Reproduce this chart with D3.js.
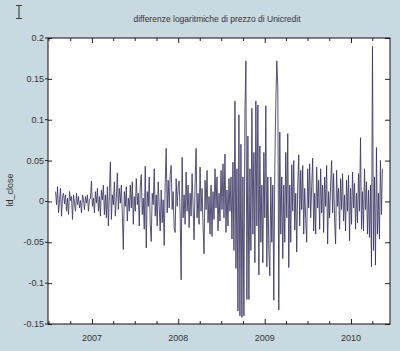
<!DOCTYPE html>
<html>
<head>
<meta charset="utf-8">
<script src="https://cdn.jsdelivr.net/npm/d3@7"></script>
<style>
html,body{margin:0;padding:0;background:#c9d9e2;}
svg{display:block;}
text{font-family:"Liberation Sans",Arial,sans-serif;fill:#333;}
</style>
</head>
<body>
<svg id="chart" width="400" height="351"></svg>
<script>
// ---- data ----
const title = "differenze logaritmiche di prezzo di Unicredit";
const yLabel = "ld_close";
const yTicks = [0.2, 0.15, 0.1, 0.05, 0, -0.05, -0.1, -0.15];
const yTickLabels = ["0.2", "0.15", "0.1", "0.05", "0", "-0.05", "-0.1", "-0.15"];
const xTickYears = [2007, 2008, 2009, 2010];
const seriesStart = "2006-07-31";
const seriesEnd = "2010-05-14";
const ldClose = [
 0.012,-0.004,0.018,-0.014,0.002,0.016,-0.018,0.006,0.010,-0.003,0.008,-0.012,0.004,-0.016,0.012,0.001,0.006,-0.022,0.008,-0.002,-0.012,0.010,-0.004,0.006,-0.008,0.001,-0.014,0.008,0.003,-0.010,0.006,-0.002,0.008,-0.012,0.002,0.004,
 0.025,-0.006,0.004,-0.014,0.012,-0.002,0.016,-0.012,0.006,-0.018,0.014,0.002,0.020,-0.016,0.008,-0.020,0.018,-0.030,0.012,0.048,
 -0.022,0.008,-0.004,0.024,-0.018,0.004,0.035,-0.010,0.016,-0.002,0.020,-0.016,-0.059,0.012,-0.006,0.018,-0.024,0.004,-0.012,0.020,
 -0.008,0.024,-0.028,0.006,-0.012,0.028,-0.004,0.010,-0.030,0.018,0.033,-0.016,0.004,-0.034,0.043,-0.057,0.012,-0.006,0.030,-0.028,
 -0.049,0.010,-0.004,0.040,-0.018,0.008,-0.030,0.024,-0.006,-0.036,0.014,-0.026,0.002,-0.054,0.020,0.065,-0.014,0.026,-0.008,0.032,
 0.044,-0.010,0.012,-0.032,-0.038,0.028,-0.006,0.018,0.025,-0.014,-0.096,0.054,-0.020,0.008,-0.028,0.036,-0.012,0.020,-0.032,0.010,
 -0.018,0.034,-0.006,-0.047,0.022,0.065,-0.020,0.010,-0.028,0.042,-0.012,0.016,-0.030,-0.064,0.026,-0.010,0.038,-0.026,0.006,-0.040,
 0.020,-0.043,0.012,-0.022,0.040,-0.008,0.030,-0.036,0.010,-0.024,0.038,-0.010,0.046,-0.020,0.058,-0.038,0.014,-0.030,0.028,-0.012,
 0.030,-0.046,0.048,-0.060,0.123,-0.082,0.040,-0.134,0.106,-0.140,0.070,-0.142,0.030,-0.140,0.108,0.172,-0.120,0.080,-0.120,0.040,
 -0.060,0.114,-0.040,0.060,-0.075,0.123,-0.030,0.118,-0.090,0.068,-0.050,0.020,-0.075,0.060,-0.020,0.117,-0.080,0.030,-0.060,-0.091,
 0.030,-0.050,0.020,-0.121,0.040,0.119,0.172,0.140,-0.133,0.085,-0.040,0.030,-0.070,0.020,-0.050,0.060,-0.020,0.083,-0.081,0.020,
 -0.050,0.045,-0.012,0.050,-0.035,0.010,-0.062,0.020,0.057,-0.030,0.038,-0.010,0.044,-0.040,0.016,-0.022,-0.050,0.040,-0.008,0.046,
 -0.020,0.018,0.053,-0.036,0.010,-0.040,0.042,-0.008,0.026,-0.034,0.040,-0.014,0.020,-0.038,0.030,-0.006,0.044,-0.052,0.012,-0.020,
 0.020,0.050,-0.014,0.034,-0.024,-0.052,0.038,-0.006,0.016,-0.034,0.028,-0.010,0.034,-0.024,0.008,-0.036,0.026,-0.012,0.032,-0.048,
 0.016,-0.028,0.036,-0.008,0.022,-0.034,0.010,-0.026,0.034,-0.012,0.078,-0.034,0.012,-0.036,0.040,-0.010,0.024,-0.040,0.014,-0.044,
 0.020,-0.080,0.190,-0.060,0.030,-0.078,0.066,-0.040,0.010,-0.046,0.050,-0.016,0.040
];

// ---- layout ----
const svg = d3.select("#chart");
const L = 48, R = 390, T = 38, B = 324;

const t0 = new Date(seriesStart), t1 = new Date(seriesEnd);
const idxToDate = d3.scaleLinear().domain([0, ldClose.length - 1]).range([t0.getTime(), t1.getTime()]);
const data = ldClose.map((v, i) => ({date: new Date(idxToDate(i)), v}));

const x = d3.scaleTime().domain([new Date("2006-06-29"), new Date("2010-06-15")]).range([L, R]);
const y = d3.scaleLinear().domain([-0.15, 0.2]).range([B, T]);

svg.append("rect").attr("x", L).attr("y", T).attr("width", R - L).attr("height", B - T).attr("fill", "#fff");

// series
const line = d3.line().x(d => x(d.date)).y(d => y(d.v));
svg.append("path").datum(data).attr("d", line)
  .attr("fill", "none").attr("stroke", "#3a3662").attr("stroke-width", 1).attr("stroke-opacity", 0.85);

// axes
const majorX = xTickYears.map(yy => new Date(yy, 0, 1));
const minorX = d3.timeMonth.every(3).range(x.domain()[0], x.domain()[1]).filter(d => d.getMonth() !== 0);

const gB = svg.append("g").attr("transform", `translate(0,${B})`);
gB.call(d3.axisBottom(x).tickValues(majorX).tickSize(-5).tickFormat("").tickSizeOuter(0));
gB.append("g").call(d3.axisBottom(x).tickValues(minorX).tickSize(-3).tickFormat("").tickSizeOuter(0));
const gT = svg.append("g").attr("transform", `translate(0,${T})`);
gT.call(d3.axisTop(x).tickValues(majorX).tickSize(-5).tickFormat("").tickSizeOuter(0));
gT.append("g").call(d3.axisTop(x).tickValues(minorX).tickSize(-3).tickFormat("").tickSizeOuter(0));
const gL = svg.append("g").attr("transform", `translate(${L},0)`);
gL.call(d3.axisLeft(y).tickValues(yTicks).tickSize(-4).tickFormat("").tickSizeOuter(0));
const gR = svg.append("g").attr("transform", `translate(${R},0)`);
gR.call(d3.axisRight(y).tickValues(yTicks).tickSize(-5).tickFormat("").tickSizeOuter(0));
svg.selectAll(".domain").remove();
svg.selectAll(".tick line").attr("stroke", "#222");

// frame
svg.append("rect").attr("x", L).attr("y", T).attr("width", R - L).attr("height", B - T)
  .attr("fill", "none").attr("stroke", "#111").attr("stroke-width", 1);

// left outward tick stubs + labels
yTicks.forEach((t, i) => {
  svg.append("line").attr("x1", L - 3).attr("x2", L).attr("y1", y(t)).attr("y2", y(t)).attr("stroke", "#222");
  svg.append("text").attr("x", L - 4).attr("y", y(t) + 3).attr("text-anchor", "end")
    .attr("font-size", 9).text(yTickLabels[i]);
});
xTickYears.forEach((yy, i) => {
  svg.append("text").attr("x", x(majorX[i])).attr("y", 341).attr("text-anchor", "middle")
    .attr("font-size", 9).text(String(yy));
});

svg.append("text").attr("x", 217).attr("y", 22).attr("text-anchor", "middle")
  .attr("font-size", 8.5).text(title);
svg.append("text").attr("transform", "translate(13,190) rotate(-90)").attr("text-anchor", "middle")
  .attr("font-size", 9).text(yLabel);

// I-beam cursor glyph
svg.append("path").attr("d", "M16,5.5H22M19,5.5V18.5M16,18.5H22")
  .attr("stroke", "#444").attr("stroke-width", 1.2).attr("fill", "none");
</script>
</body>
</html>
